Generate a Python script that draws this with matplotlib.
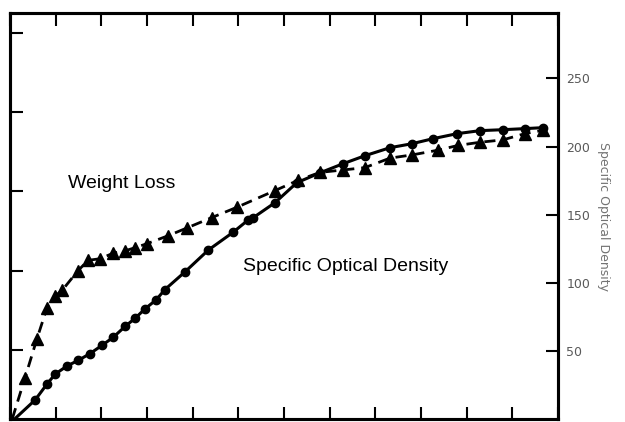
import matplotlib.pyplot as plt
import numpy as np

# hours (bottom axis, labels lost in the scan)
sod_x = [0.1, 0.55, 0.81, 0.99, 1.25, 1.49, 1.75, 2.01, 2.26, 2.52, 2.74, 2.96, 3.20, 3.39,
         3.83, 4.34, 4.88, 5.21, 5.32, 5.80, 6.28, 6.79, 7.29, 7.77, 8.32, 8.80, 9.26,
         9.79, 10.29, 10.79, 11.28, 11.67]
sod_y = [0, 14, 25.7, 33, 39, 43, 48, 54, 60, 68, 74, 81, 87.5, 95,
         108, 124, 137, 146, 147.7, 158.8, 173.5, 180.8, 187.4, 193.3, 199.2, 202.1, 205.8,
         209.5, 211.7, 212.4, 213.2, 213.9]

wl_x = [0.05, 0.33, 0.59, 0.81, 0.99, 1.14, 1.49, 1.71, 1.97, 2.26, 2.52, 2.74, 3.00,
        3.46, 3.88, 4.42, 4.97, 5.80, 6.31, 6.79, 7.29, 7.77, 8.32, 8.80, 9.37, 9.81,
        10.29, 10.79, 11.28, 11.67]
wl_y = [1.3, 6.5, 11.4, 15.3, 16.8, 17.5, 20.0, 21.3, 21.5, 22.2, 22.5, 22.9, 23.4,
        24.4, 25.4, 26.7, 28.0, 30.1, 31.4, 32.4, 32.7, 33.0, 34.2, 34.6, 35.2, 35.8,
        36.2, 36.5, 37.3, 37.7]

sod_ticks = [50, 100, 150, 200, 250]
sod_labels = ['50', '100', '150', '200', '250']
wl_ticks = [10, 20, 30, 40, 50]
x_ticks = list(range(0, 13))

fig = plt.figure(figsize=(6.25, 4.22), dpi=100)
ax = fig.add_axes([0.016, 0.007, 0.877, 0.962])
ax2 = ax.twinx()

# first point of each curve sits on the axis, no marker there
ax.plot(wl_x, wl_y, color='k', lw=2, dashes=(4, 2.5), marker='^', ms=8,
        markevery=slice(1, None))
ax2.plot(sod_x, sod_y, color='k', lw=2.2, ls='-', marker='o', ms=6,
         markevery=slice(1, None))

ax.set_xlim(0, 12)
ax.set_ylim(1.27, 52.5)
ax2.set_ylim(0, 298)

ax.set_xticks(x_ticks)
ax.set_yticks(wl_ticks)
ax.tick_params(axis='both', which='both', direction='in', length=9, width=1.5,
               top=True, labelbottom=False, labelleft=False)
ax2.set_yticks(sod_ticks)
ax2.set_yticklabels(sod_labels)
ax2.tick_params(axis='y', direction='in', length=9, width=1.5, labelsize=9,
                labelcolor='0.35', pad=6)
ax2.set_ylabel('Specific Optical Density', rotation=270, labelpad=14,
               fontsize=9, color='0.45')

for a in (ax, ax2):
    for s in a.spines.values():
        s.set_linewidth(2.2)

ax2.text(1.27, 172.7, 'Weight Loss', fontsize=14, family='Liberation Sans',
         va='center', ha='left')
ax2.text(5.1, 111.7, 'Specific Optical Density', fontsize=14, family='Liberation Sans',
         va='center', ha='left')

fig.savefig('out.png', dpi=100)
